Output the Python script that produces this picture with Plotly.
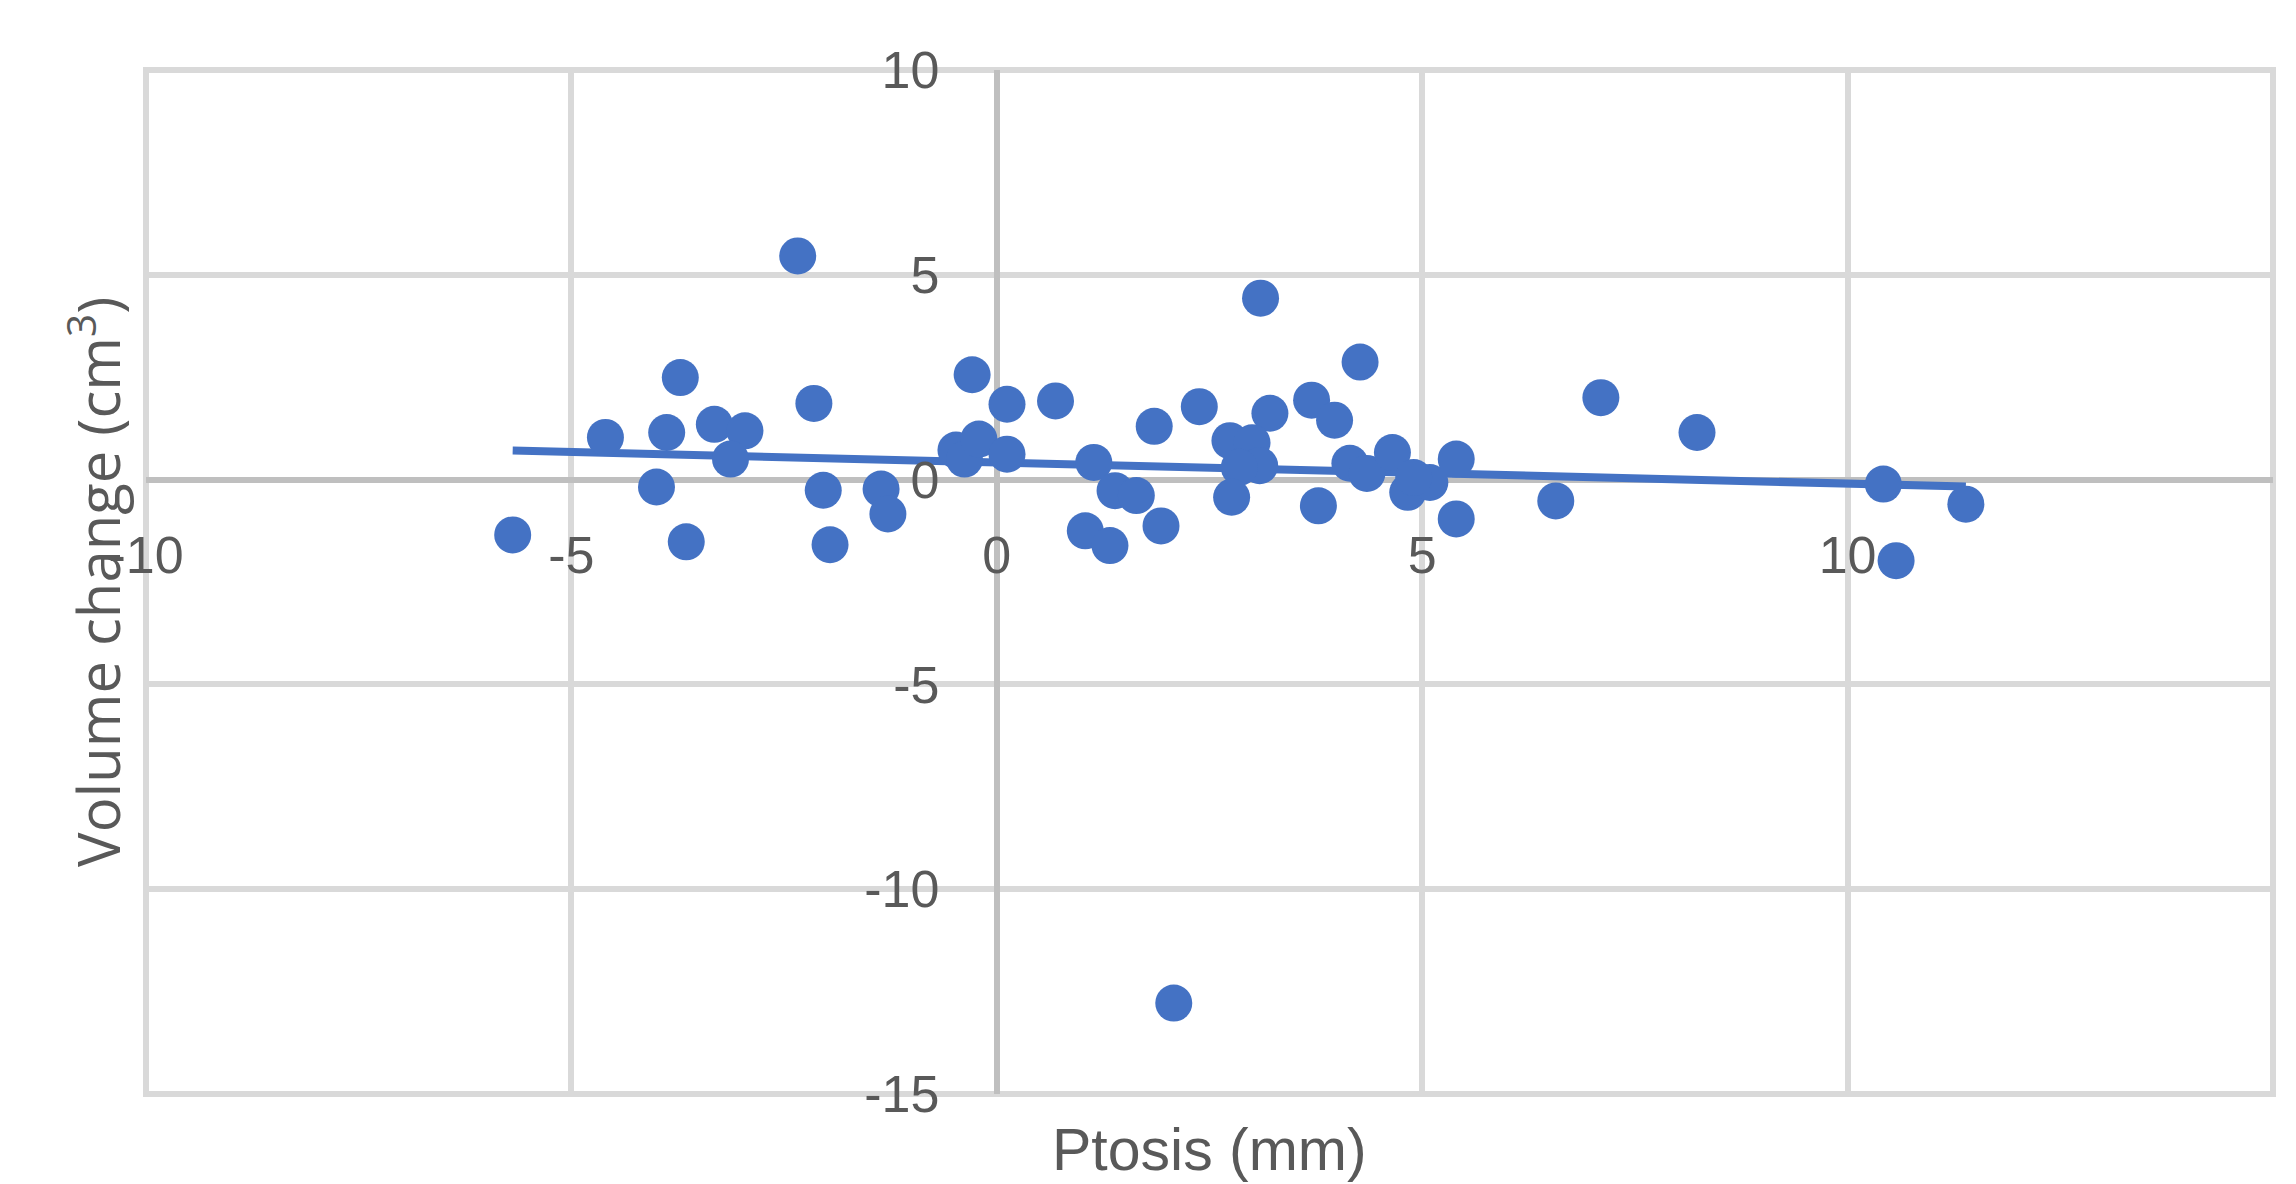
import numpy as np
import plotly.graph_objects as go

# Ptosis (mm) and volume change (cm3)
ptosis = [-5.69, -4.60, -3.88, -3.72, -4.00, -3.65, -3.32, -2.96, -3.13, -2.34,
          -2.15, -2.04, -1.96, -1.36, -1.28,
          -0.29, 0.12, 0.69, -0.48, -0.38, -0.21, 0.12,
          1.14, 1.39, 1.64, 1.04, 1.33, 1.93, 1.85, 2.38, 3.10, 4.27, 3.21, 3.70, 3.97,
          2.74, 3.00, 3.09, 2.85, 2.76,
          3.78, 4.15, 4.35, 4.65, 4.83, 5.09, 4.90, 5.40, 5.40,
          6.57, 7.10, 8.23, 10.42, 11.39, 10.57,
          2.08]
volume = [-1.35, 1.03, 1.15, 2.49, -0.18, -1.52, 1.35, 1.19, 0.50, 5.46,
          1.86, -0.26, -1.59, -0.23, -0.84,
          2.56, 1.84, 1.92, 0.72, 0.50, 0.99, 0.62,
          0.42, -0.27, -0.39, -1.25, -1.61, -1.13, 1.30, 1.78, 4.43, 2.87, 1.62, 1.94, 1.45,
          0.95, 0.90, 0.34, 0.30, -0.43,
          -0.64, 0.40, 0.15, 0.66, -0.31, -0.07, 0.05, 0.50, -0.96,
          -0.52, 2.00, 1.15, -0.11, -0.60, -1.98,
          -12.78]

x_ticks = [-10, -5, 0, 5, 10, 15]
y_ticks = [-15, -10, -5, 0, 5, 10]

BLUE = "#4472C4"
GRID = "#D9D9D9"
ZERO = "#BFBFBF"
TXT = "#595959"

# linear trendline (least squares) over the data range
px_arr = np.array(ptosis)
vy_arr = np.array(volume)
slope, intercept = np.polyfit(px_arr, vy_arr, 1)
tx = [px_arr.min(), px_arr.max()]
ty = [slope * v + intercept for v in tx]

fig = go.Figure()
fig.add_trace(go.Scatter(x=tx, y=ty, mode="lines",
                         line=dict(color=BLUE, width=8), hoverinfo="skip",
                         showlegend=False))
fig.add_trace(go.Scatter(x=ptosis, y=volume, mode="markers",
                         marker=dict(color=BLUE, size=37, line=dict(width=0)),
                         showlegend=False))

tickfont = dict(family="Liberation Sans, Arial, sans-serif", size=52, color=TXT)

fig.update_layout(
    width=2288, height=1176,
    margin=dict(l=138, r=23, t=62, b=90),
    paper_bgcolor="white", plot_bgcolor="white",
    xaxis=dict(range=[-10, 15], tickvals=x_ticks, ticktext=[str(v) for v in x_ticks],
               showgrid=True, gridcolor=GRID, gridwidth=6,
               zeroline=True, zerolinecolor=ZERO, zerolinewidth=6,
               showline=False, anchor="free", position=0.6, side="bottom",
               ticks="outside", ticklen=30, tickcolor="rgba(0,0,0,0)",
               tickfont=tickfont, fixedrange=True),
    yaxis=dict(range=[-15, 10], tickvals=y_ticks, ticktext=[str(v) for v in y_ticks],
               showgrid=True, gridcolor=GRID, gridwidth=6,
               zeroline=True, zerolinecolor=ZERO, zerolinewidth=6,
               showline=False, anchor="free", position=0.4, side="left",
               ticks="outside", ticklen=47, tickcolor="rgba(0,0,0,0)",
               tickfont=tickfont, fixedrange=True),
    shapes=[dict(type="rect", xref="paper", yref="paper", x0=0, x1=1, y0=0, y1=1,
                 line=dict(color=GRID, width=6), layer="below")],
    annotations=[
        dict(text="Ptosis (mm)", xref="paper", yref="paper", x=0.5, y=-0.055,
             xanchor="center", yanchor="middle", showarrow=False,
             font=dict(family="Liberation Sans, Arial, sans-serif", size=59, color=TXT)),
        dict(text="Volume change (cm<sup>3</sup>)", xref="paper", yref="paper",
             x=-0.024, y=0.5, xanchor="center", yanchor="middle", textangle=-90,
             showarrow=False,
             font=dict(family="Open Sans, sans-serif", size=58, color=TXT)),
    ],
)

fig.write_html("out.html")
